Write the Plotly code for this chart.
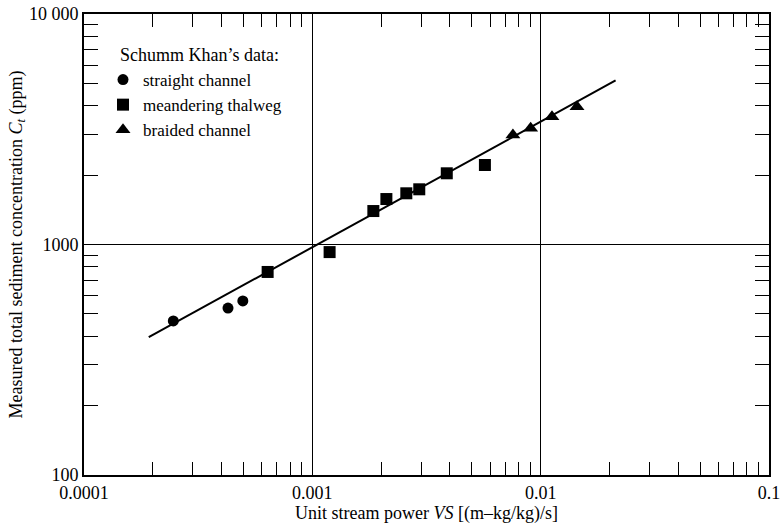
import plotly.graph_objects as go

# Data
straight_x = [0.000246, 0.000427, 0.000496]
straight_y = [466, 530, 569]

meander_x = [0.000637, 0.00119, 0.00185, 0.00211, 0.00258, 0.00294, 0.00388, 0.00570]
meander_y = [760, 927, 1397, 1575, 1668, 1736, 2037, 2213]

braided_x = [0.00756, 0.00904, 0.01121, 0.01443]
braided_y = [2986, 3193, 3586, 3962]

fit_x = [0.000192, 0.0213]
fit_y = [396, 5150]

x_tickvals = [0.0001, 0.001, 0.01, 0.1]
x_ticktext = ["0.0001", "0.001", "0.01", "0.1"]
y_tickvals = [100, 1000, 10000]
y_ticktext = ["100", "1000", "10 000"]

FONT = "Liberation Serif"

fig = go.Figure()
fig.add_trace(go.Scatter(x=fit_x, y=fit_y, mode="lines",
                         line=dict(color="black", width=2), showlegend=False))
fig.add_trace(go.Scatter(x=straight_x, y=straight_y, mode="markers", name="straight channel",
                         marker=dict(symbol="circle", size=11, color="black")))
fig.add_trace(go.Scatter(x=meander_x, y=meander_y, mode="markers", name="meandering thalweg",
                         marker=dict(symbol="square", size=12, color="black")))
fig.add_trace(go.Scatter(x=braided_x, y=braided_y, mode="markers", name="braided channel",
                         marker=dict(symbol="triangle-up", size=13, color="black")))

x_minor = [m * 10 ** e for e in (-4, -3, -2) for m in range(2, 10)]
y_minor = [m * 10 ** e for e in (2, 3) for m in range(2, 10)]

common = dict(type="log", showline=True, linecolor="black", linewidth=2, mirror="ticks",
              ticks="inside", ticklen=14, tickcolor="black", tickwidth=1,
              showgrid=True, gridcolor="black", gridwidth=1, zeroline=False,
              tickfont=dict(family=FONT, size=18, color="black"),
              tickmode="array", automargin=False, ticklabeloverflow="allow")

fig.update_xaxes(range=[-4.0003, -0.9997], tickvals=x_tickvals, ticktext=x_ticktext,
                 minor=dict(tickmode="array", tickvals=x_minor, ticks="inside", ticklen=13,
                            tickcolor="black", tickwidth=1, showgrid=False),
                 title=dict(text="Unit stream power <i>VS</i> [(m\u2013kg/kg)/s]",
                            font=dict(family=FONT, size=18, color="black"), standoff=2),
                 **common)
fig.update_yaxes(range=[1.9997, 4.0003], tickvals=y_tickvals, ticktext=y_ticktext,
                 minor=dict(tickmode="array", tickvals=y_minor, ticks="inside", ticklen=14,
                            tickcolor="black", tickwidth=1, showgrid=False),
                 title=dict(text="Measured total sediment concentration <i>C<sub>t</sub></i> (ppm)",
                            font=dict(family=FONT, size=18, color="black"), standoff=2),
                 **common)

fig.update_layout(
    width=780, height=525,
    margin=dict(l=84, r=11, t=14, b=50),
    plot_bgcolor="white", paper_bgcolor="white",
    font=dict(family=FONT, size=18, color="black"),
    legend=dict(x=(103 - 84) / 685, y=(475 - 62) / 461, xanchor="left", yanchor="top",
                bgcolor="rgba(0,0,0,0)", borderwidth=0,
                font=dict(family=FONT, size=17, color="black"),
                tracegroupgap=0, itemsizing="trace"),
    annotations=[dict(text="Schumm Khan\u2019s data:", xref="paper", yref="paper",
                      x=(118 - 84) / 685, y=(475 - 55) / 461, xanchor="left", yanchor="middle",
                      showarrow=False, font=dict(family=FONT, size=18, color="black"))],
)

fig.write_html("out.html", config={"displayModeBar": False},
               post_script="document.body.style.margin='0';")
